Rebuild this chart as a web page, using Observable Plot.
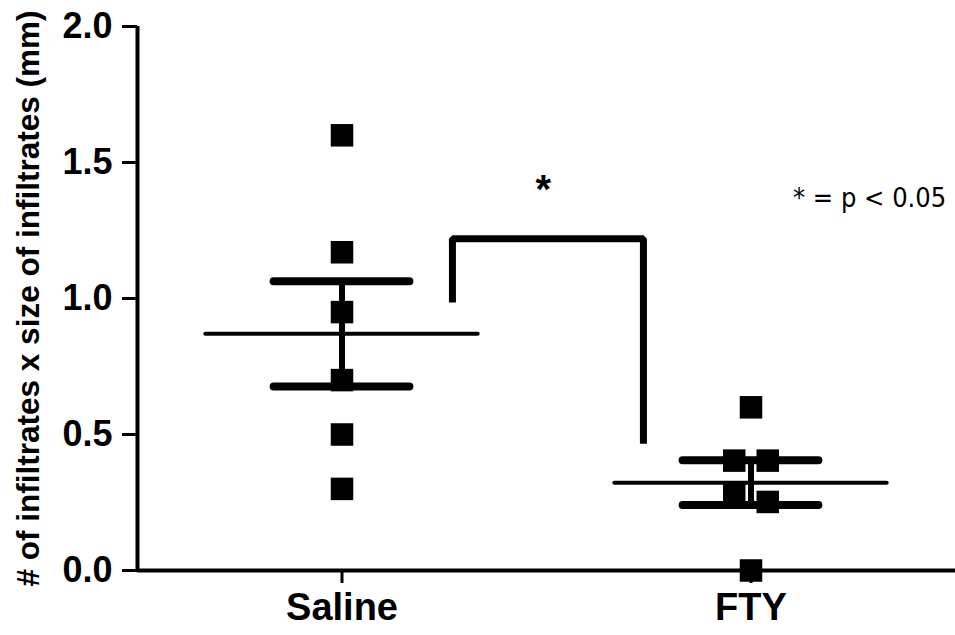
<!DOCTYPE html>
<html>
<head>
<meta charset="utf-8">
<script src="https://cdn.jsdelivr.net/npm/d3@7"></script>
<script src="https://cdn.jsdelivr.net/npm/@observablehq/plot@0.6"></script>
<style>
  html, body { margin: 0; padding: 0; background: #fff; }
  #chart { width: 955px; height: 635px; }
</style>
</head>
<body>
<div id="chart"></div>
<script>
// ---- data ----
const groups = ["Saline", "FTY"];
const salineValues = [1.60, 1.17, 0.95, 0.70, 0.50, 0.30];
const ftyValues = [0.60, 0.404, 0.404, 0.278, 0.252, 0.0];
const yTicks = [0, 0.5, 1.0, 1.5, 2.0];
const yLabel = "# of infiltrates x size of infiltrates (mm)";
// significance bracket (x in group-axis units, y in data units)
const bracketX = [0.77, 0.77, 1.237, 1.237];
const bracketY = [0.985, 1.22, 1.22, 0.466];
const sigMark = ["*"];
const sigPos = [0.992, 1.40];
const legendText = ["* = p < 0.05"];
const legendPos = [1.79, 1.37];

// ---- derived ----
const seriesValues = [salineValues, ftyValues];
const points = [];
seriesValues.forEach((vals, i) => {
  const sorted = vals.map((v) => v).sort((a, b) => b - a);
  let k = 0;
  while (k < sorted.length) {
    if (k + 1 < sorted.length && sorted[k] - sorted[k + 1] < 0.09) {
      points.push({group: groups[i], i, value: sorted[k], off: -0.041});
      points.push({group: groups[i], i, value: sorted[k + 1], off: 0.041});
      k += 2;
    } else {
      points.push({group: groups[i], i, value: sorted[k], off: 0});
      k += 1;
    }
  }
});
const stats = seriesValues.map((vals, i) => {
  const m = d3.mean(vals);
  const sem = d3.deviation(vals) / Math.sqrt(vals.length);
  return {group: groups[i], i, mean: m, lo: m - sem, hi: m + sem};
});
const bracket = bracketX.map((x, j) => ({x, y: bracketY[j]}));

const font = "'Liberation Sans', Arial, Helvetica, sans-serif";
const narrowFont = "'Liberation Sans Narrow', 'Arial Narrow', 'DejaVu Sans Condensed', sans-serif";

const plot = Plot.plot({
  width: 955,
  height: 635,
  marginLeft: 137,
  marginRight: 0,
  marginTop: 26,
  marginBottom: 65,
  style: {fontFamily: font, color: "#000", background: "#fff", overflow: "visible"},
  x: {domain: [0, 2]},
  y: {domain: [0, 2]},
  marks: [
    // axes
    Plot.axisY({ticks: yTicks, tickFormat: d3.format(".1f"), tickSize: 15, tickPadding: 10,
      fontSize: 36, fontWeight: "bold", strokeWidth: 3, label: null}),
    Plot.axisX({ticks: groups.map((g, i) => i + 0.5), tickFormat: (d) => groups[Math.round(d - 0.5)],
      tickSize: 13, tickPadding: 10, fontSize: 38, fontWeight: "bold", strokeWidth: 3, label: null}),
    Plot.ruleX([0], {y1: 0, y2: 2, strokeWidth: 4}),
    Plot.ruleY([0], {strokeWidth: 4}),
    Plot.text([yLabel], {frameAnchor: "left", dx: -109, rotate: -90, fontSize: 32, fontWeight: "bold",
      textAnchor: "middle", lineAnchor: "middle", className: "ylab"}),
    // error bars
    Plot.ruleX(stats, {x: (d) => d.i + 0.5, y1: "lo", y2: "hi", strokeWidth: 6}),
    Plot.ruleY(stats, {y: "hi", x1: (d) => d.i + 0.5 - 0.166, x2: (d) => d.i + 0.5 + 0.166, strokeWidth: 8, strokeLinecap: "round"}),
    Plot.ruleY(stats, {y: "lo", x1: (d) => d.i + 0.5 - 0.166, x2: (d) => d.i + 0.5 + 0.166, strokeWidth: 8, strokeLinecap: "round"}),
    Plot.ruleY(stats, {y: "mean", x1: (d) => d.i + 0.5 - 0.333, x2: (d) => d.i + 0.5 + 0.333, strokeWidth: 4, strokeLinecap: "round"}),
    // points
    Plot.dot(points, {x: (d) => d.i + 0.5 + d.off, y: "value", symbol: "square", r: 12.7, fill: "#000", stroke: "none"}),
    // significance bracket
    Plot.line(bracket, {x: "x", y: "y", strokeWidth: 7, strokeLinejoin: "miter", strokeLinecap: "butt"}),
    Plot.text(sigMark, {x: () => sigPos[0], y: () => sigPos[1], fontSize: 40, fontWeight: "bold", lineAnchor: "middle"}),
    Plot.text(legendText, {x: () => legendPos[0], y: () => legendPos[1], fontSize: 27, fontFamily: narrowFont, lineAnchor: "middle", className: "legend"})
  ]
});
document.getElementById("chart").appendChild(plot);
const yl = plot.querySelector(".ylab text");
if (yl) { yl.setAttribute("textLength", 576); yl.setAttribute("lengthAdjust", "spacingAndGlyphs"); }
</script>
</body>
</html>
